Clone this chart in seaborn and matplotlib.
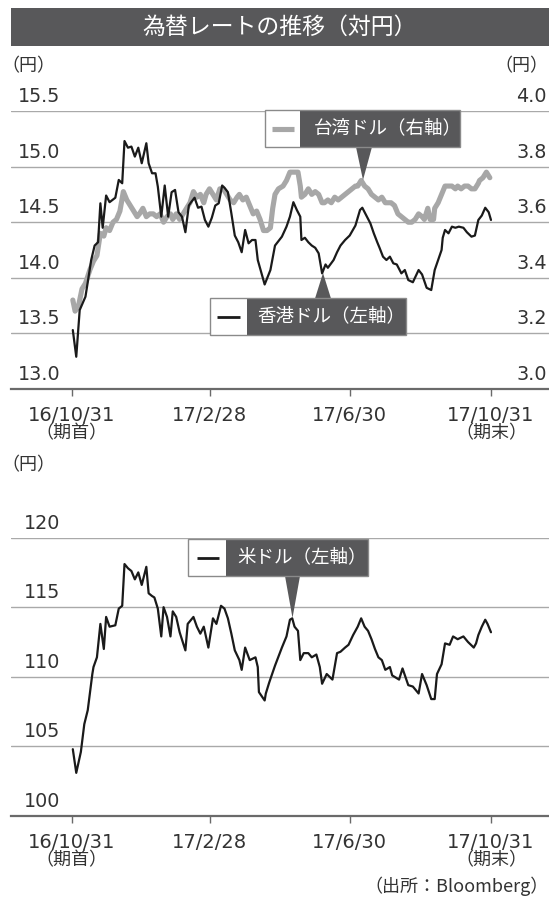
import matplotlib
matplotlib.use('Agg')
import matplotlib.pyplot as plt
import numpy as np
import pandas as pd
import seaborn as sns
from matplotlib.patches import Rectangle, Polygon
from matplotlib.lines import Line2D
from matplotlib.transforms import ScaledTranslation

# ---------------- data (days after 2016-10-31) ----------------
hkd_day = [1, 4, 7, 12, 14, 17, 20, 23, 25, 27,
           30, 33, 38, 41, 44, 46, 49, 52, 55, 58,
           61, 65, 67, 70, 73, 75, 78, 81, 84, 87,
           90, 93, 96, 99, 102, 104, 107, 110, 113, 116,
           119, 122, 125, 128, 131, 133, 136, 139, 142, 145,
           148, 151, 154, 157, 160, 162, 165, 168, 173, 177,
           183, 187, 190, 193, 196, 199, 200, 203, 206, 209,
           212, 215, 218, 221, 223, 228, 231, 234, 238, 242,
           247, 251, 253, 257, 260, 263, 266, 268, 271, 274,
           277, 280, 283, 287, 290, 293, 297, 302, 305, 309,
           313, 316, 319, 322, 323, 325, 328, 331, 334, 337,
           341, 344, 348, 351, 354, 357, 360, 363, 365]
hkd_val = [13.53, 13.29, 13.71, 13.83, 13.96, 14.16, 14.29, 14.32, 14.67, 14.45,
           14.74, 14.68, 14.72, 14.88, 14.85, 15.23, 15.17, 15.18, 15.09, 15.17,
           15.03, 15.21, 15.03, 14.94, 14.94, 14.82, 14.55, 14.83, 14.55, 14.77,
           14.79, 14.59, 14.55, 14.41, 14.65, 14.68, 14.72, 14.63, 14.64, 14.52,
           14.46, 14.54, 14.65, 14.67, 14.83, 14.81, 14.77, 14.58, 14.38, 14.32,
           14.23, 14.43, 14.31, 14.34, 14.34, 14.16, 14.05, 13.94, 14.07, 14.29,
           14.37, 14.46, 14.55, 14.68, 14.61, 14.55, 14.34, 14.36, 14.32, 14.29,
           14.27, 14.22, 14.04, 14.12, 14.09, 14.16, 14.23, 14.29, 14.34, 14.38,
           14.47, 14.61, 14.63, 14.55, 14.49, 14.40, 14.32, 14.27, 14.19, 14.16,
           14.19, 14.13, 14.12, 14.04, 14.07, 13.98, 13.96, 14.07, 14.03, 13.91,
           13.89, 14.07, 14.16, 14.25, 14.36, 14.43, 14.40, 14.46, 14.45, 14.46,
           14.45, 14.41, 14.37, 14.38, 14.52, 14.56, 14.63, 14.59, 14.52]

twd_day = [1, 3, 6, 9, 12, 16, 19, 22, 25, 28,
           30, 33, 36, 39, 42, 45, 48, 51, 54, 57,
           59, 62, 65, 68, 71, 74, 77, 80, 83, 86,
           88, 91, 94, 97, 100, 103, 106, 109, 112, 115,
           117, 120, 123, 126, 129, 132, 135, 138, 141, 144,
           146, 149, 152, 155, 158, 161, 164, 167, 170, 173,
           175, 177, 180, 184, 187, 190, 193, 197, 199, 200,
           203, 206, 209, 212, 215, 218, 220, 223, 226, 229,
           232, 235, 238, 241, 244, 247, 249, 252, 255, 258,
           261, 264, 267, 270, 273, 276, 278, 281, 284, 287,
           290, 293, 296, 299, 302, 305, 307, 310, 312, 315,
           316, 319, 322, 325, 328, 331, 334, 336, 339, 342,
           345, 348, 351, 354, 355, 358, 361, 364]
twd_val = [3.32, 3.28, 3.30, 3.36, 3.38, 3.43, 3.46, 3.48, 3.56, 3.55,
           3.58, 3.57, 3.60, 3.61, 3.64, 3.71, 3.68, 3.66, 3.64, 3.62,
           3.63, 3.65, 3.62, 3.63, 3.63, 3.62, 3.63, 3.60, 3.62, 3.63,
           3.61, 3.63, 3.61, 3.63, 3.65, 3.67, 3.71, 3.69, 3.70, 3.67,
           3.70, 3.72, 3.70, 3.68, 3.72, 3.72, 3.70, 3.68, 3.67, 3.69,
           3.70, 3.68, 3.69, 3.66, 3.63, 3.64, 3.61, 3.57, 3.57, 3.58,
           3.65, 3.70, 3.72, 3.73, 3.75, 3.78, 3.78, 3.78, 3.73, 3.69,
           3.70, 3.72, 3.70, 3.71, 3.70, 3.67, 3.67, 3.68, 3.67, 3.69,
           3.68, 3.69, 3.70, 3.71, 3.72, 3.73, 3.73, 3.75, 3.73, 3.72,
           3.70, 3.69, 3.68, 3.69, 3.67, 3.67, 3.67, 3.66, 3.63, 3.62,
           3.61, 3.60, 3.60, 3.61, 3.63, 3.62, 3.61, 3.65, 3.61, 3.61,
           3.65, 3.67, 3.70, 3.73, 3.73, 3.73, 3.72, 3.73, 3.72, 3.73,
           3.73, 3.72, 3.72, 3.74, 3.75, 3.76, 3.78, 3.76]

usd_day = [1, 4, 8, 11, 14, 16, 18, 19, 22, 25,
           28, 30, 33, 38, 41, 44, 46, 49, 52, 55,
           58, 61, 65, 67, 70, 72, 75, 78, 80, 83,
           86, 88, 91, 94, 99, 101, 106, 109, 112, 115,
           119, 123, 126, 130, 133, 136, 139, 142, 146, 148,
           151, 155, 160, 162, 163, 168, 169, 172, 177, 183,
           187, 190, 192, 194, 197, 199, 202, 206, 209, 213,
           216, 218, 222, 227, 231, 234, 238, 241, 245, 249,
           252, 255, 258, 261, 264, 267, 270, 273, 277, 279,
           285, 288, 293, 297, 302, 305, 309, 313, 316, 318,
           322, 325, 329, 332, 336, 341, 345, 350, 352, 354,
           357, 360, 362, 365]
usd_val = [104.8, 103.1, 104.6, 106.6, 107.6, 108.9, 110.2, 110.7, 111.4, 113.8,
           112.0, 114.3, 113.6, 113.7, 114.9, 115.1, 118.1, 117.8, 117.6, 117.0,
           117.5, 116.6, 117.9, 116.0, 115.8, 115.7, 114.9, 112.9, 115.0, 114.3,
           112.9, 114.7, 114.3, 113.2, 111.9, 113.8, 114.3, 113.6, 113.1, 113.6,
           112.1, 114.2, 113.8, 115.1, 114.9, 114.2, 113.1, 111.9, 111.2, 110.5,
           112.1, 111.2, 111.4, 110.7, 108.9, 108.3, 108.8, 109.6, 110.8, 112.1,
           112.9, 114.1, 114.2, 113.6, 113.3, 111.2, 111.7, 111.7, 111.4, 111.6,
           110.7, 109.5, 110.2, 109.8, 111.7, 111.8, 112.1, 112.3, 113.0, 113.6,
           114.2, 113.6, 113.3, 112.7, 112.0, 111.4, 111.2, 110.5, 110.7, 110.1,
           109.8, 110.6, 109.4, 109.3, 108.8, 110.2, 109.4, 108.4, 108.4, 110.2,
           110.9, 112.4, 112.3, 112.9, 112.7, 112.9, 112.5, 112.1, 112.4, 113.0,
           113.6, 114.1, 113.8, 113.2]

x_tick_dates = ['2016-10-31', '2017-02-28', '2017-06-30', '2017-10-31']
x_tick_labels = ['16/10/31', '17/2/28', '17/6/30', '17/10/31']
top_left_ticks = [13.0, 13.5, 14.0, 14.5, 15.0, 15.5]
top_right_ticks = [3.0, 3.2, 3.4, 3.6, 3.8, 4.0]
bottom_ticks = [100, 105, 110, 115, 120]

# ---------------- style ----------------
sns.set_theme(style='white')
plt.rcParams['font.family'] = ['DejaVu Sans', 'Noto Sans CJK JP']
JP = ['Noto Sans CJK JP', 'DejaVu Sans']
W, H = 549, 901
DARK = '#58585a'
GRID = '#a9a9a9'
AXIS = '#6a6a6a'
TXT = '#333333'
BLACK = '#1a1a1a'
GRAY = '#a7a7a7'

fig = plt.figure(figsize=(W / 100, H / 100), dpi=100)
fig.patch.set_facecolor('white')


def fx(x):
    return x / W


def fy(y):
    return 1 - y / H


start = pd.Timestamp('2016-10-31')


def to_dates(days):
    return start + pd.to_timedelta(np.asarray(days, dtype=float), unit='D')


xlim = (start - pd.Timedelta(days=52.8), pd.Timestamp('2017-10-31') + pd.Timedelta(days=50.5))
xticks = pd.to_datetime(x_tick_dates)

ax = fig.add_axes([fx(11), fy(389), (549 - 11) / W, (389 - 111) / H])
ax2 = ax.twinx()
axb = fig.add_axes([fx(11), fy(816), (549 - 11) / W, (816 - 537.6) / H])

sns.lineplot(x=to_dates(twd_day), y=twd_val, ax=ax2, color=GRAY, linewidth=3.7,
             estimator=None, sort=False)
sns.lineplot(x=to_dates(hkd_day), y=hkd_val, ax=ax, color=BLACK, linewidth=1.6,
             estimator=None, sort=False)
sns.lineplot(x=to_dates(usd_day), y=usd_val, ax=axb, color=BLACK, linewidth=1.6,
             estimator=None, sort=False)

ax.set_zorder(2)
ax2.set_zorder(1)
ax.patch.set_visible(False)


def style_main(a, lo, hi, ticks, fmt):
    a.set_xlim(*xlim)
    a.set_ylim(lo, hi)
    a.set_yticks(ticks)
    a.set_yticklabels([fmt.format(t) for t in ticks])
    a.set_xticks(xticks)
    a.set_xticklabels(x_tick_labels)
    a.grid(axis='y', color=GRID, lw=1.0)
    a.grid(axis='x', visible=False)
    for s in ['top', 'left', 'right']:
        a.spines[s].set_visible(False)
    a.spines['bottom'].set_color(AXIS)
    a.spines['bottom'].set_linewidth(1.6)
    a.set_xlabel('')
    a.set_ylabel('')
    a.tick_params(axis='x', direction='out', length=5, width=1, color=AXIS, pad=7,
                  labelsize=14, labelcolor=TXT, bottom=True)
    a.tick_params(axis='y', length=0, pad=-35.3, labelsize=13.8, labelcolor=TXT)


style_main(ax, 13.0, 15.5, top_left_ticks, '{:.1f}')
style_main(axb, 100, 120, bottom_ticks, '{:.0f}')

ax2.set_ylim(3.0, 4.0)
ax2.set_yticks(top_right_ticks)
ax2.set_yticklabels(['{:.1f}'.format(t) for t in top_right_ticks])
ax2.grid(False)
for s in ['top', 'left', 'right', 'bottom']:
    ax2.spines[s].set_visible(False)
ax2.set_ylabel('')
ax2.tick_params(axis='y', length=0, pad=-1.5, labelsize=13.8, labelcolor=TXT)

off = ScaledTranslation(0, 0.165, fig.dpi_scale_trans)
for a in (ax, axb, ax2):
    for lab in a.get_yticklabels():
        lab.set_transform(lab.get_transform() + off)
for lab in ax2.get_yticklabels():
    lab.set_ha('right')

# ---------------- title bar ----------------
fig.add_artist(Rectangle((fx(11), fy(45.7)), (549 - 11) / W, (45.7 - 8.3) / H,
                         transform=fig.transFigure, facecolor=DARK, edgecolor='none', zorder=5))
fig.text(fx(280), fy(27.5), '為替レートの推移（対円）', ha='center', va='center',
         color='white', fontsize=16.5, family=JP, zorder=6)

# unit labels
fig.text(fx(1), fy(66), '（円）', ha='left', va='center', color=TXT, fontsize=13, family=JP)
fig.text(fx(548.5), fy(66), '（円）', ha='right', va='center', color=TXT, fontsize=13, family=JP)
fig.text(fx(1), fy(465), '（円）', ha='left', va='center', color=TXT, fontsize=13, family=JP)

# period notes under first/last tick
for yy in (433, 860):
    fig.text(fx(71.7), fy(yy), '（期首）', ha='center', va='center', color=TXT, fontsize=13, family=JP)
    fig.text(fx(491), fy(yy), '（期末）', ha='center', va='center', color=TXT, fontsize=13, family=JP)

fig.text(fx(548.5), fy(886), '（出所：Bloomberg）', ha='right', va='center', color=TXT,
         fontsize=13, family=JP)


# ---------------- callout legends ----------------
def callout(xw0, xw1, xd1, yt, yb, color, lw, sx0, sx1, label, tx, tri):
    ym = (yt + yb) / 2
    h = (yb - yt) / H
    fig.add_artist(Rectangle((fx(xw0), fy(yb)), (xw1 - xw0) / W, h, transform=fig.transFigure,
                             facecolor='white', edgecolor='none', zorder=10))
    fig.add_artist(Rectangle((fx(xw1), fy(yb)), (xd1 - xw1) / W, h, transform=fig.transFigure,
                             facecolor=DARK, edgecolor='none', zorder=10))
    fig.add_artist(Rectangle((fx(xw0), fy(yb)), (xd1 - xw0) / W, h, transform=fig.transFigure,
                             facecolor='none', edgecolor='#8a8a8a', lw=1.0, zorder=11))
    fig.add_artist(Polygon([(fx(px), fy(py)) for px, py in tri], closed=True,
                           transform=fig.transFigure, facecolor=DARK, edgecolor='none', zorder=10))
    fig.add_artist(Line2D([fx(sx0), fx(sx1)], [fy(ym), fy(ym)], transform=fig.transFigure,
                          color=color, lw=lw, solid_capstyle='butt', zorder=12))
    fig.text(fx(tx), fy(ym), label, ha='left', va='center', color='white', fontsize=13.3,
             family=JP, zorder=12)


callout(265, 300, 460, 110, 147, GRAY, 3.7, 272, 294, '台湾ドル（右軸）', 314,
        [(356, 147), (372, 147), (363, 180)])
callout(210, 247, 406, 298, 335, BLACK, 2.0, 217, 240, '香港ドル（左軸）', 257,
        [(315, 298.5), (331, 298.5), (323, 273)])
callout(188, 226, 368, 539, 576, BLACK, 2.0, 197, 219, '米ドル（左軸）', 237,
        [(285, 576), (300, 576), (292.5, 618)])

fig.savefig('out.png', dpi=100, facecolor='white')
